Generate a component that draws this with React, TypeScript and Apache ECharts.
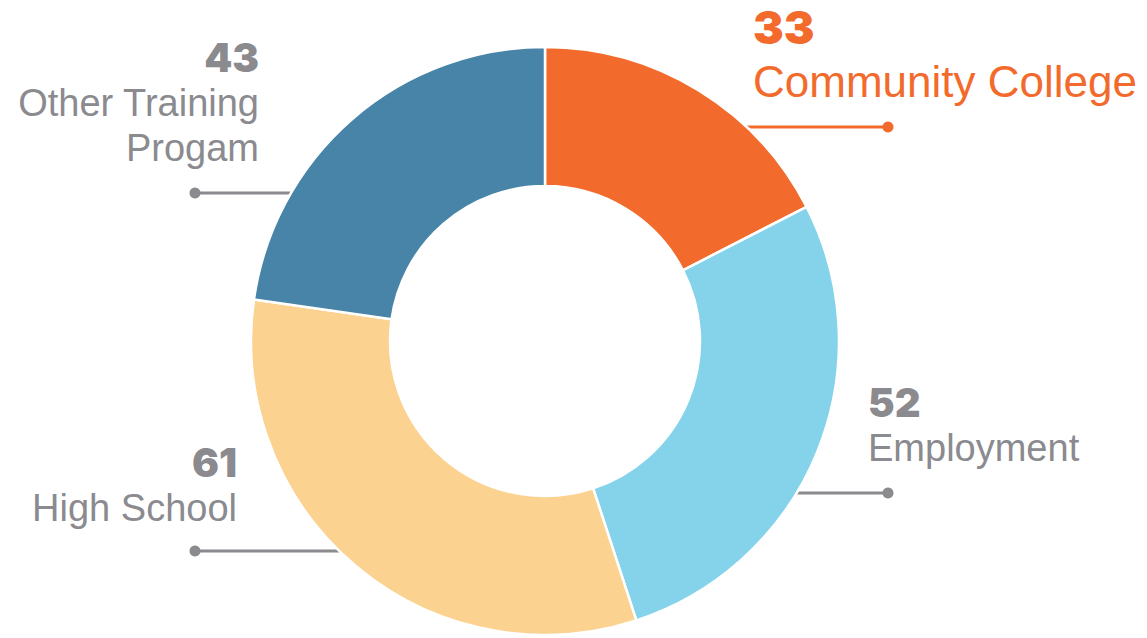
import React, { useEffect, useRef } from "react";
import * as echarts from "echarts";

const categories = ["Community College", "Employment", "High School", "Other Training\nProgam"];
const values = [33, 52, 61, 43];
const colors = ["#F26B2C", "#85D3EA", "#FCD290", "#4784A8"];

const GRAY = "#8A8A8F";
const CX = 545;
const CY = 341;
const R_OUT = 294;
const R_IN = 155;

// label layout per category: side (1 right, -1 left), text anchor x, block top, line y, dot x
const labelSide = [1, 1, -1, -1];
const labelX = [753, 868, 237, 259];
const labelTop = [0, 380, 440, 35];
const lineY = [127, 493, 551, 193];
const dotX = [888, 888, 195, 195];
const highlighted = [true, false, false, false];

export default function App() {
  const ref = useRef<HTMLDivElement>(null);

  useEffect(() => {
    if (!ref.current) return;
    const chart = echarts.init(ref.current, undefined, { renderer: "svg" });
    const font = "'Liberation Sans', Arial, Helvetica, sans-serif";
    const numFont = "Inter, 'Liberation Sans', Arial, sans-serif";

    const data = categories.map((name, i) => {
      const hl = highlighted[i];
      const col = hl ? colors[0] : GRAY;
      const align = labelSide[i] > 0 ? "left" : "right";
      return {
        name,
        value: values[i],
        itemStyle: { color: colors[i] },
        label: {
          show: true,
          formatter: "{n|{c}}\n{t|{b}}",
          rich: {
            n: {
              fontFamily: numFont,
              fontWeight: 900,
              fontSize: hl ? 46 : 40,
              lineHeight: hl ? 54 : 45,
              color: col,
              align,
            },
            t: {
              fontFamily: font,
              fontSize: hl ? 44 : 38,
              lineHeight: hl ? 54 : 45,
              color: col,
              align,
            },
          },
        },
        labelLine: {
          show: true,
          lineStyle: { color: col, width: 3 },
        },
      };
    });

    const graphics = categories.map((_, i) => ({
      type: "circle",
      shape: { cx: dotX[i], cy: lineY[i], r: 5.5 },
      style: { fill: highlighted[i] ? colors[0] : GRAY },
      z: 10,
    }));

    chart.setOption({
      animation: false,
      backgroundColor: "#ffffff",
      graphic: graphics,
      series: [
        {
          type: "pie",
          center: [CX, CY],
          radius: [R_IN, R_OUT],
          startAngle: 90,
          clockwise: true,
          avoidLabelOverlap: false,
          emphasis: { disabled: true },
          itemStyle: { borderColor: "#ffffff", borderWidth: 2.5 },
          label: { position: "outside" },
          labelLine: { show: true, length: 10, length2: 10 },
          labelLayout: (params: any) => {
            const i = params.dataIndex;
            const y = lineY[i];
            const dy = y - CY;
            const dx = Math.sqrt(Math.max(0, R_OUT * R_OUT - dy * dy));
            const edgeX = CX + labelSide[i] * (dx - 2);
            return {
              x: labelX[i],
              y: labelTop[i],
              align: labelSide[i] > 0 ? "left" : "right",
              verticalAlign: "top",
              labelLinePoints: [
                [edgeX, y],
                [(edgeX + dotX[i]) / 2, y],
                [dotX[i], y],
              ],
            };
          },
          data,
        },
      ],
    });

    return () => chart.dispose();
  }, []);

  return (
    <div
      ref={ref}
      style={{ position: "absolute", left: 0, top: 0, width: 1147, height: 638 }}
    />
  );
}
